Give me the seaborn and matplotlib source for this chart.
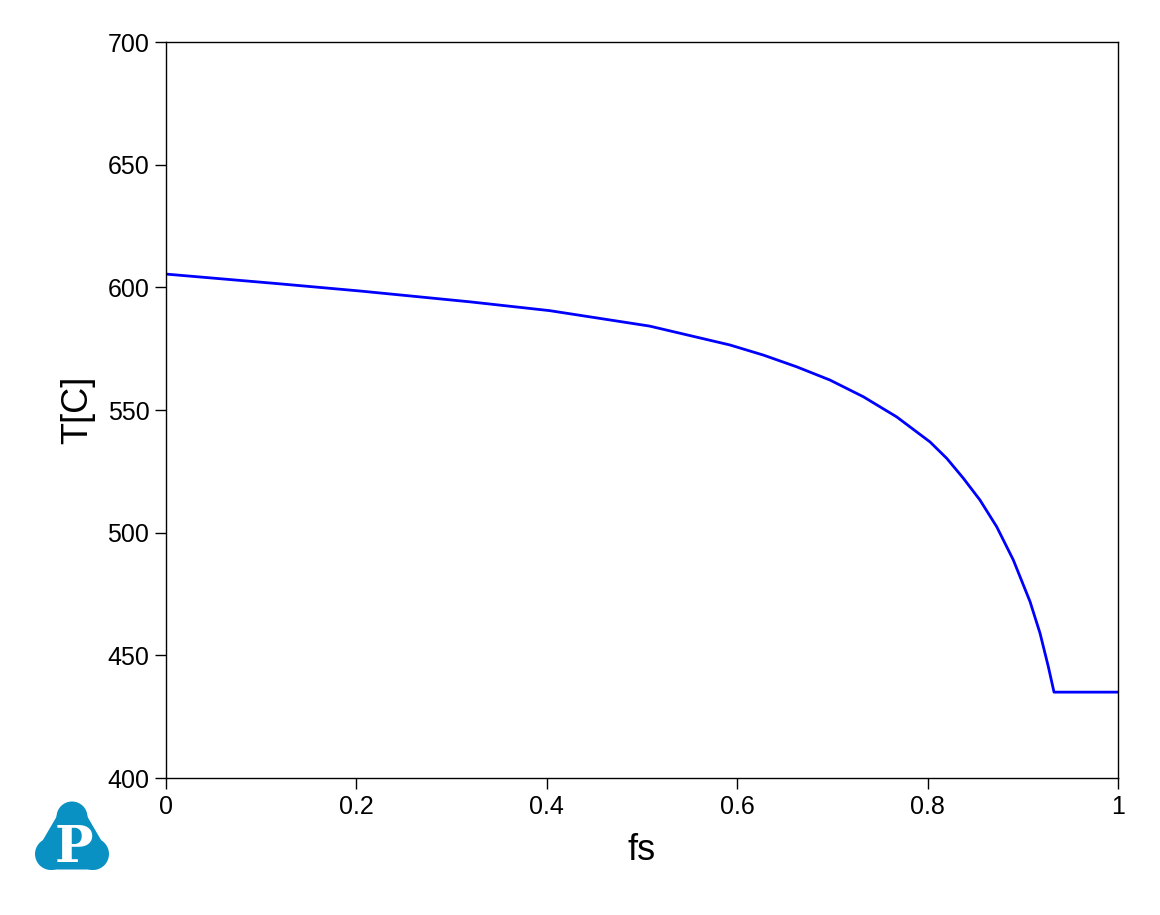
import numpy as np
import pandas as pd
import seaborn as sns
import matplotlib.pyplot as plt
from matplotlib.patches import Circle, Polygon

# solid fraction vs temperature
fs = [0.0, 0.1145, 0.2038, 0.319, 0.403, 0.508, 0.5924, 0.6274, 0.6625, 0.6975,
      0.7325, 0.7675, 0.8025, 0.8201, 0.8375, 0.855, 0.8726, 0.89, 0.9076,
      0.9181, 0.9268, 0.9328, 1.0]
temp = [605.4, 601.6, 598.5, 594.1, 590.5, 584.2, 576.5, 572.4, 567.6, 562.2,
        555.4, 547.2, 537.0, 530.3, 522.2, 513.3, 502.4, 488.9, 471.9,
        459.0, 445.4, 435.0, 435.0]
x_ticks = [0, 0.2, 0.4, 0.6, 0.8, 1]
x_tick_labels = ['0', '0.2', '0.4', '0.6', '0.8', '1']
y_ticks = [400, 450, 500, 550, 600, 650, 700]

LOGO_BLUE = '#0a91c3'

sns.set_theme(style='white')
plt.rcParams['font.family'] = ['Liberation Sans', 'DejaVu Sans']

df = pd.DataFrame({'fs': fs, 'T': temp})

fig = plt.figure(figsize=(11.6, 9.15), dpi=100)
ax = fig.add_axes([166 / 1160, 1 - 778 / 915, (1118 - 166) / 1160, (778 - 42) / 915])
sns.lineplot(data=df, x='fs', y='T', color='#0000ff', linewidth=2, ax=ax,
             sort=False, estimator=None)

ax.set_xlim(0, 1)
ax.set_ylim(400, 700)
ax.set_xticks(x_ticks)
ax.set_xticklabels(x_tick_labels)
ax.set_yticks(y_ticks)
ax.tick_params(axis='both', which='major', direction='out', length=8, width=1,
               labelsize=18, color='black', labelcolor='black', pad=4)
ax.tick_params(bottom=True, left=True, top=False, right=False)
for sp in ax.spines.values():
    sp.set_color('black')
    sp.set_linewidth(1)
ax.set_xlabel('fs', fontsize=26, labelpad=10, color='black')
ax.set_ylabel('T[C]', fontsize=26, labelpad=9, color='black')

# logo in the lower left corner: three-lobed cloud with a white P
lax = fig.add_axes([30 / 1160, 1 - 875 / 915, 84 / 1160, 76 / 915])
lax.set_xlim(30, 114)
lax.set_ylim(875, 799)
lax.axis('off')
lax.add_patch(Polygon([(72, 819), (51, 855), (93, 855)], closed=True,
                      facecolor=LOGO_BLUE, edgecolor=LOGO_BLUE,
                      lw=29 * 72 / 100, joinstyle='round'))
for cx, cy, r in [(72, 817, 15.5), (51, 854, 16), (93, 854, 16)]:
    lax.add_patch(Circle((cx, cy), r, color=LOGO_BLUE, lw=0))
lax.text(73.5, 848, 'P', ha='center', va='center', color='white', fontsize=37,
         fontweight='bold', family='DejaVu Serif')

fig.savefig('out.png', dpi=100)
